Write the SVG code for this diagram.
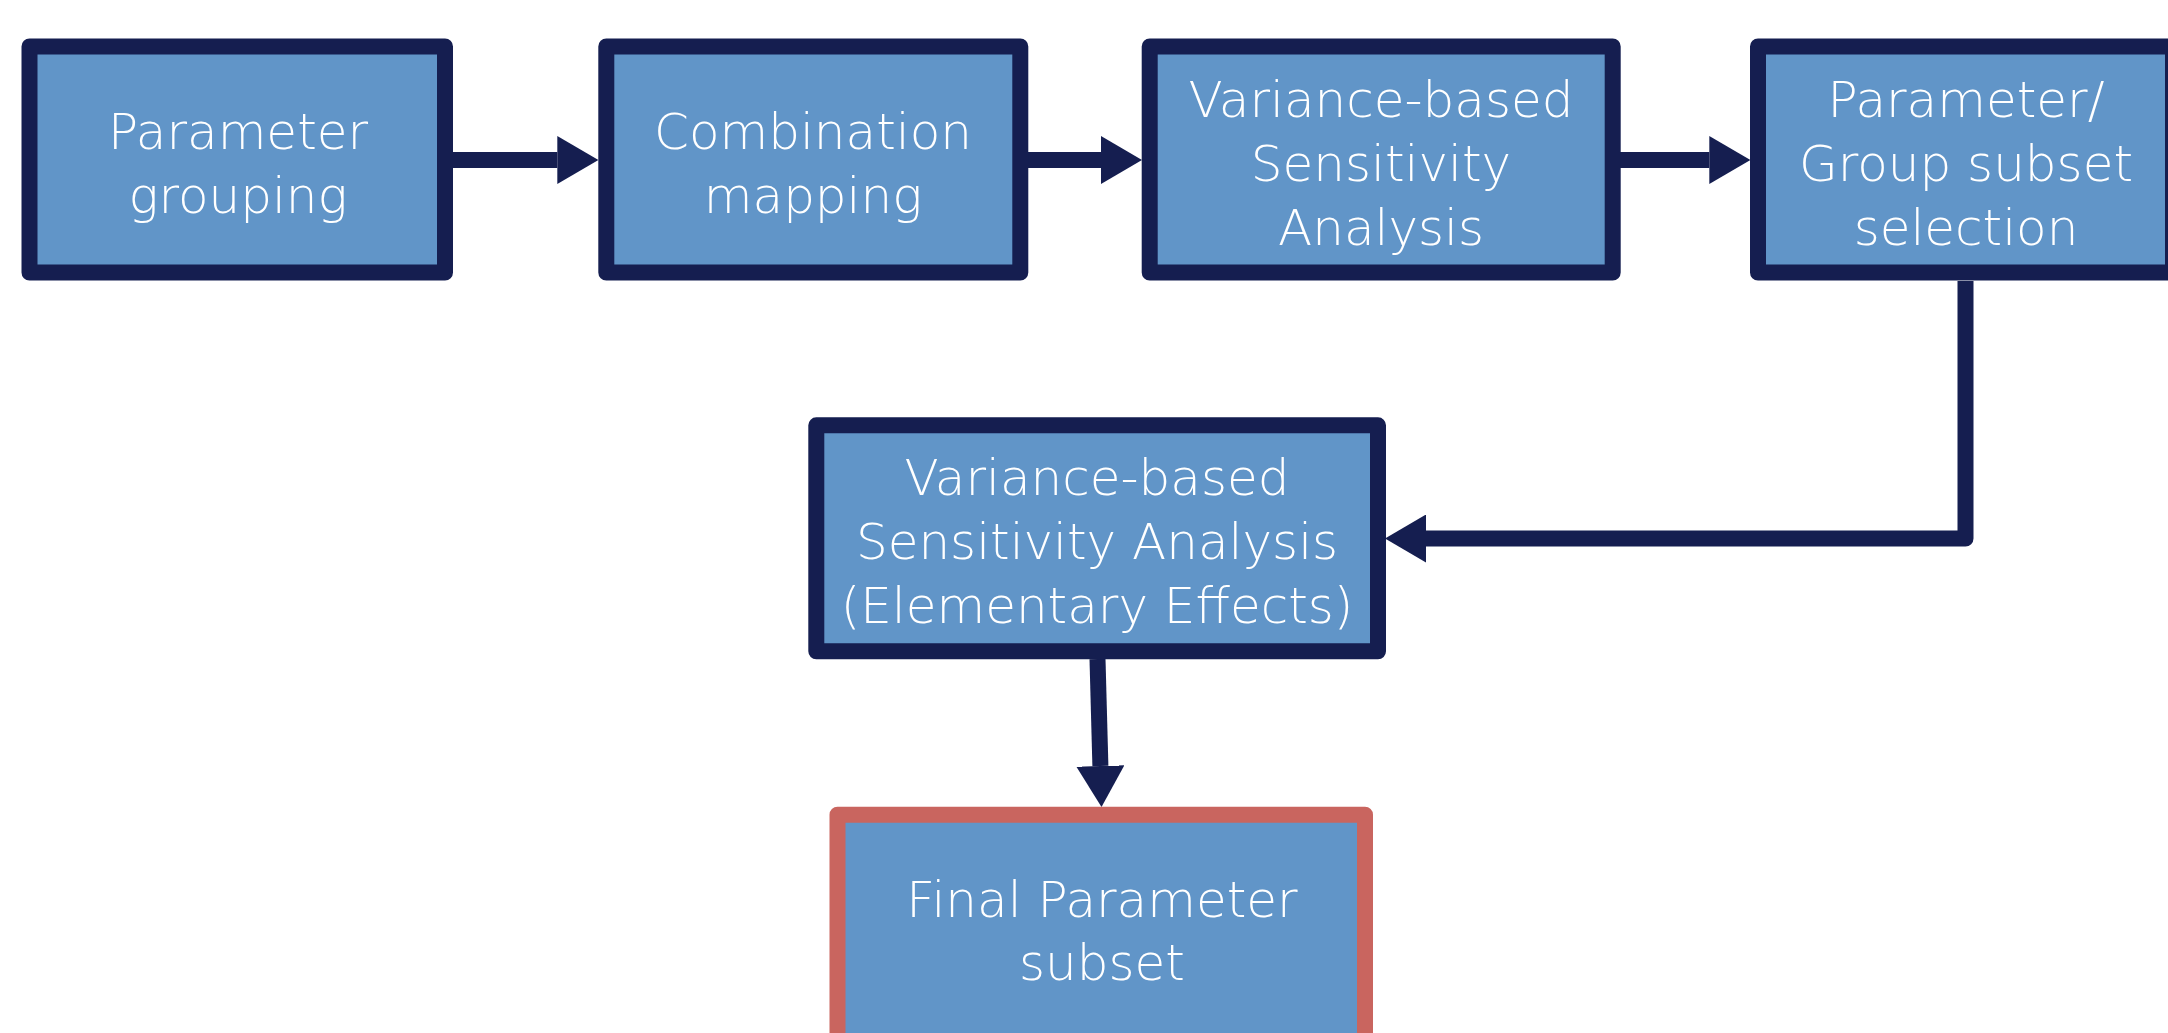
<svg xmlns="http://www.w3.org/2000/svg" width="2168" height="1033" viewBox="0 0 2168 1033">
  <style>
    .box { fill: #6195C8; stroke: #151E50; stroke-width: 16; stroke-linejoin: round; }
    .final { fill: #6195C8; stroke: #C9655F; stroke-width: 16; stroke-linejoin: round; }
    .lbl { fill: #FFFFFF; font-family: "DejaVu Sans", "Liberation Sans", sans-serif; font-size: 50px; font-weight: 300; text-anchor: middle; }
    .conn { fill: none; stroke: #151E50; stroke-width: 16; stroke-linejoin: round; }
  </style>
  <defs>
    <marker id="head" viewBox="0 -24 41 48" refX="0" refY="0" markerWidth="41" markerHeight="48" markerUnits="userSpaceOnUse" orient="auto">
      <path d="M0,-24 L41,0 L0,24 Z" fill="#151E50"/>
    </marker>
  </defs>
  <rect width="2168" height="1033" fill="#FFFFFF"/>

  <g id="connectors">
    <path class="conn" d="M452,160 H557.3" marker-end="url(#head)"/>
    <path class="conn" d="M1028,160 H1101" marker-end="url(#head)"/>
    <path class="conn" d="M1620,160 H1709.3" marker-end="url(#head)"/>
    <path class="conn" d="M1965.5,281 V538.5 H1426" marker-end="url(#head)"/>
    <path class="conn" d="M1097.5,659 L1100.4,766" marker-end="url(#head)"/>
  </g>

  <g id="node-parameter-grouping">
    <rect class="box" x="29.5" y="46.5" width="415.5" height="226"/>
    <text class="lbl" x="238" y="149">Parameter</text>
    <text class="lbl" x="238" y="213">grouping</text>
  </g>

  <g id="node-combination-mapping">
    <rect class="box" x="606.3" y="46.5" width="414" height="226"/>
    <text class="lbl" x="813" y="149">Combination</text>
    <text class="lbl" x="813" y="213">mapping</text>
  </g>

  <g id="node-vbsa">
    <rect class="box" x="1149.7" y="46.5" width="463" height="226"/>
    <text class="lbl" x="1381" y="117">Variance-based</text>
    <text class="lbl" x="1381" y="181">Sensitivity</text>
    <text class="lbl" x="1381" y="245">Analysis</text>
  </g>

  <g id="node-subset-selection">
    <rect class="box" x="1758" y="46.5" width="415" height="226"/>
    <text class="lbl" x="1966" y="117">Parameter/</text>
    <text class="lbl" x="1966" y="181">Group subset</text>
    <text class="lbl" x="1966" y="245">selection</text>
  </g>

  <g id="node-vbsa-ee">
    <rect class="box" x="816.3" y="425.3" width="561.7" height="226"/>
    <text class="lbl" x="1097" y="495">Variance-based</text>
    <text class="lbl" x="1097" y="559">Sensitivity Analysis</text>
    <text class="lbl" x="1097" y="623">(Elementary Effects)</text>
  </g>

  <g id="node-final-subset">
    <rect class="final" x="837.5" y="814.7" width="527.5" height="300"/>
    <text class="lbl" x="1102" y="917">Final Parameter</text>
    <text class="lbl" x="1102" y="980">subset</text>
  </g>
</svg>
